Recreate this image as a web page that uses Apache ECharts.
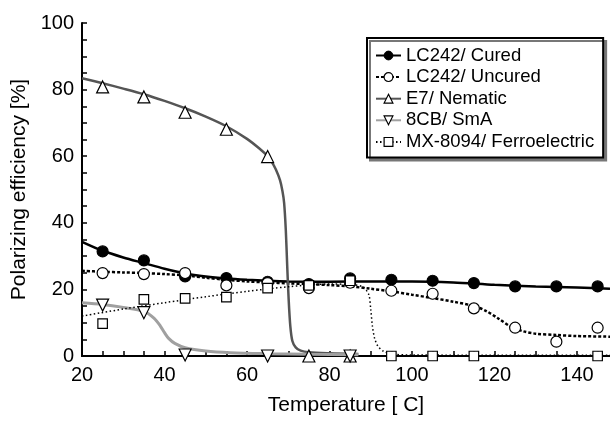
<!DOCTYPE html>
<html>
<head>
<meta charset="utf-8">
<script src="https://cdn.jsdelivr.net/npm/echarts@6/dist/echarts.min.js"></script>
<style>
  html, body { margin: 0; padding: 0; background: #fff; }
  #chart { width: 610px; height: 421px; }
</style>
</head>
<body>
<div id="chart"></div>
<script>
// 测量点温度
const temps = [25, 35, 45, 55, 65, 75, 85, 95, 105, 115, 125, 135, 145];

// 各样品的测量值 (%)
const curedVals = [31.4, 28.7, 23.9, 23.4, 22.3, 21.6, 23.3, 22.9, 22.6, 21.9, 20.9, 20.9, 20.9];
const uncuredVals = [24.9, 24.6, 24.9, 21.2, 21.9, 20.4, 22.0, 19.6, 18.7, 14.3, 8.5, 4.3, 8.5];
const e7Temps = [25, 35, 45, 55, 65, 75, 85];
const e7Vals = [80.8, 77.8, 73.2, 68.1, 59.9, 0, 0];
const cb8Temps = [25, 35, 45, 65, 85];
const cb8Vals = [15.3, 13.0, 0.3, 0, 0];
const mxTemps = [25, 35, 45, 55, 65, 75, 85, 95, 105, 115, 145];
const mxVals = [9.7, 17.0, 17.3, 17.7, 20.4, 21.2, 22.6, 0, 0, 0, 0];

// 拟合曲线 [温度, 值]
const curedFit = [[20, 34.3], [25, 31.6], [30, 29.6], [35, 27.9], [40, 26.2], [45, 24.8], [50, 23.9], [55, 23.3],
  [60, 22.9], [65, 22.6], [70, 22.4], [80, 22.3], [90, 22.4], [100, 22.4], [110, 22.1], [120, 21.4],
  [130, 20.9], [140, 20.6], [148, 20.2]];
const uncuredFit = [[20, 25.6], [25, 25.3], [30, 25.1], [35, 24.9], [40, 24.6], [45, 24.2], [50, 23.5], [55, 22.9],
  [60, 22.4], [65, 22.1], [70, 21.8], [75, 21.6], [80, 21.3], [85, 20.9], [90, 20.2], [95, 19.4], [100, 18.4],
  [105, 17.4], [110, 16.3], [115, 15.0], [118, 13.5], [121, 11.2], [124, 8.8], [127, 7.4], [130, 6.7],
  [135, 6.3], [140, 6.0], [148, 5.8]];
const e7Fit = [[20, 83.4], [25, 81.9], [30, 80.3], [35, 78.6], [40, 76.6], [45, 74.4], [50, 71.9], [55, 69.0],
  [60, 65.2], [63, 62.3], [65, 60.0], [66, 58.3], [67, 56.0], [68, 52.8], [68.6, 49.5], [69, 46], [69.4, 38],
  [69.75, 27], [70.1, 17], [70.5, 9], [71, 4.5], [71.8, 2.6], [73, 1.6], [75, 1.1], [80, 0.8], [87, 0.6]];
const cb8Fit = [[20, 16.0], [25, 15.5], [30, 14.6], [35, 13.4], [37.5, 11.3], [39, 9.0], [40, 7.0], [41, 5.3],
  [42.5, 3.8], [45, 2.5], [50, 1.5], [56, 1.0], [65, 0.7], [75, 0.5], [87, 0.4]];
const mxFit = [[20, 12.0], [30, 14.1], [40, 16.0], [50, 17.8], [60, 19.4], [70, 20.8], [80, 21.6], [85, 21.5],
  [88, 20.8], [89.5, 18.5], [90, 14], [90.4, 9], [90.9, 5.5], [91.7, 3.0], [93, 1.5], [95, 0.6], [100, 0.3],
  [148, 0.2]];

// 图例名称
const names = ['LC242/ Cured', 'LC242/ Uncured', 'E7/ Nematic', '8CB/ SmA', 'MX-8094/ Ferroelectric'];

const FONT = 'Liberation Sans, Arial, sans-serif';

function pairs(xs, ys) {
  return xs.map((x, i) => [x, ys[i]]);
}

const chart = echarts.init(document.getElementById('chart'));

// 曲线 + 散点
function curve(name, data, color, width, type, symbol, rotate) {
  return {
    name: name,
    type: 'line',
    data: data,
    smooth: 0.3,
    showSymbol: false,
    symbol: symbol,
    symbolRotate: rotate || 0,
    lineStyle: { color: color, width: width, type: type },
    itemStyle: { color: color },
    z: 2,
    silent: true
  };
}

function marks(data, symbol, size, fill, rotate) {
  return {
    type: 'scatter',
    data: data,
    symbol: symbol,
    symbolSize: size,
    symbolRotate: rotate || 0,
    itemStyle: { color: fill, borderColor: '#000', borderWidth: 1.2, opacity: 1 },
    z: 5,
    silent: true
  };
}

const option = {
  animation: false,
  backgroundColor: '#fff',
  textStyle: { fontFamily: FONT },
  grid: { left: 82, right: 0, top: 23, bottom: 62 },
  legend: {
    orient: 'vertical',
    left: 367,
    top: 38,
    padding: [8, 9, 6, 8],
    itemWidth: 25,
    itemHeight: 11,
    itemGap: 2.6,
    backgroundColor: '#fff',
    borderColor: '#000',
    borderWidth: 2,
    borderRadius: 0,
    shadowColor: '#777',
    shadowBlur: 0,
    shadowOffsetX: 3,
    shadowOffsetY: 3,
    textStyle: { fontSize: 18.5, color: '#000', fontFamily: FONT },
    data: [
      { name: names[0], itemStyle: { color: '#000', borderColor: '#000', borderWidth: 1 } },
      { name: names[1], itemStyle: { color: '#fff', borderColor: '#000', borderWidth: 1.2 } },
      { name: names[2], itemStyle: { color: '#fff', borderColor: '#000', borderWidth: 1.2 } },
      { name: names[3], itemStyle: { color: '#fff', borderColor: '#000', borderWidth: 1.2 } },
      { name: names[4], itemStyle: { color: '#fff', borderColor: '#000', borderWidth: 1.2 } }
    ]
  },
  xAxis: [
    {
      type: 'value',
      min: 20,
      max: 148,
      interval: 5,
      name: 'Temperature [ C]',
      nameLocation: 'middle',
      nameGap: 39,
      nameTextStyle: { fontSize: 21, color: '#000', fontFamily: FONT },
      axisLine: { show: true, onZero: false, lineStyle: { color: '#000', width: 2 } },
      axisTick: { show: true, inside: true, length: 5, lineStyle: { color: '#000', width: 1.5 } },
      axisLabel: {
        fontSize: 20, color: '#000', margin: 9, fontFamily: FONT,
        showMaxLabel: false,
        formatter: v => (v % 20 === 0 ? String(v) : '')
      },
      splitLine: { show: false }
    },
    {
      type: 'value',
      position: 'top',
      min: 20,
      max: 148,
      axisLine: { show: true, lineStyle: { color: '#000', width: 2 } },
      axisTick: { show: false },
      axisLabel: { show: false },
      splitLine: { show: false }
    }
  ],
  yAxis: {
    type: 'value',
    min: 0,
    max: 100,
    interval: 5,
    name: 'Polarizing efficiency [%]',
    nameLocation: 'middle',
    nameGap: 50,
    nameTextStyle: { fontSize: 21, color: '#000', fontFamily: FONT },
    axisLine: { show: true, lineStyle: { color: '#000', width: 2 } },
    axisTick: { show: true, inside: true, length: 5, lineStyle: { color: '#000', width: 1.5 } },
    axisLabel: {
      fontSize: 20, color: '#000', margin: 8, fontFamily: FONT,
      formatter: v => (v % 20 === 0 ? String(v) : '')
    },
    splitLine: { show: false }
  },
  series: [
    curve(names[0], curedFit, '#000', 2.5, 'solid', 'circle'),
    curve(names[1], uncuredFit, '#000', 2.5, [3, 2], 'circle'),
    curve(names[2], e7Fit, '#555', 2.5, 'solid', 'triangle'),
    curve(names[3], cb8Fit, '#a0a0a0', 3, 'solid', 'triangle', 180),
    curve(names[4], mxFit, '#000', 1.5, [1.5, 2.5], 'rect'),
    marks(pairs(temps, curedVals), 'circle', 11, '#000'),
    marks(pairs(temps, uncuredVals), 'circle', 11, '#fff'),
    marks(pairs(e7Temps, e7Vals), 'triangle', 12, '#fff'),
    marks(pairs(cb8Temps, cb8Vals), 'triangle', 12, '#fff', 180),
    marks(pairs(mxTemps, mxVals), 'rect', 9.5, '#fff')
  ]
};

chart.setOption(option);
</script>
</body>
</html>
